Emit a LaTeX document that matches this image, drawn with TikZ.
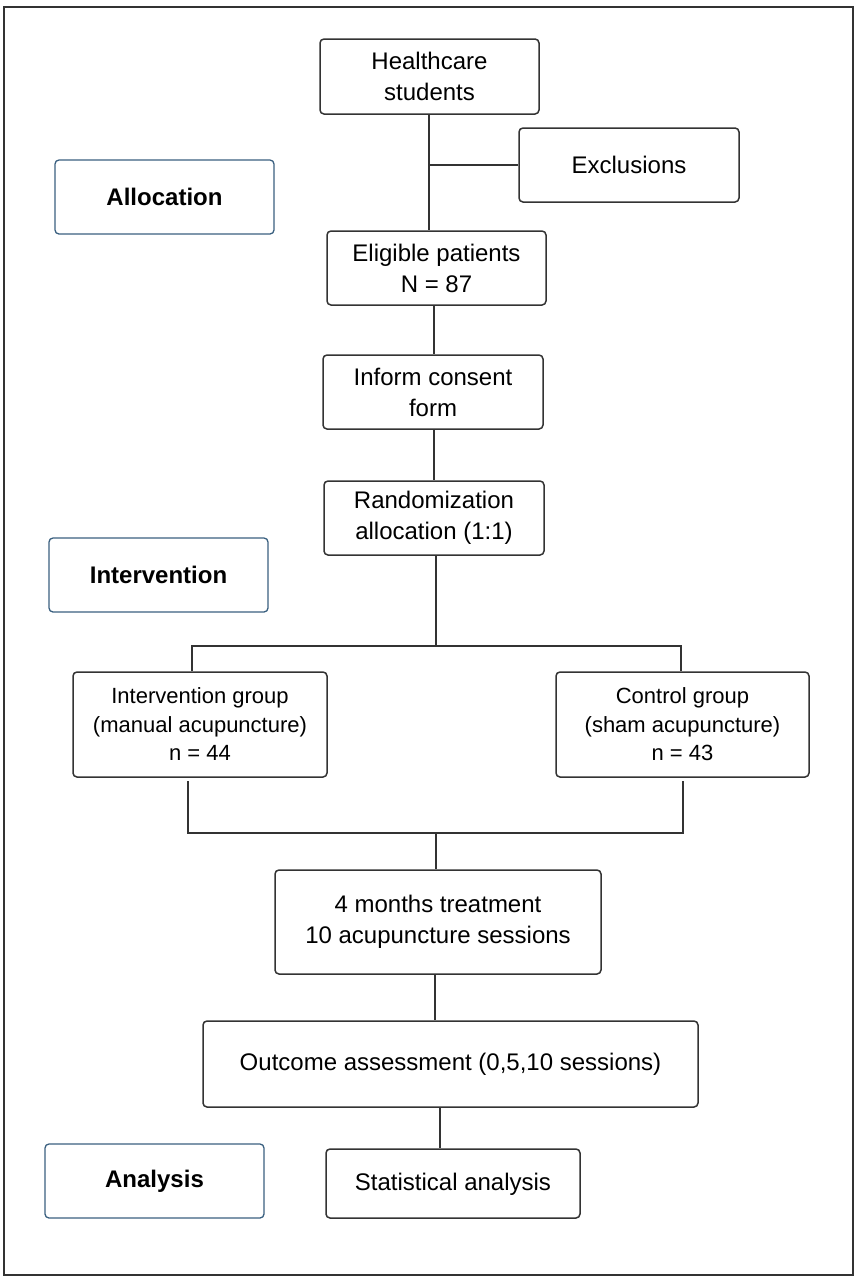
\documentclass[tikz,border=0pt]{standalone}
\usepackage{fontspec}
\setmainfont{Liberation Sans}
\definecolor{boxline}{HTML}{333333}
\definecolor{labline}{HTML}{3A6080}
\begin{document}
\begin{tikzpicture}[x=1pt,y=-1pt,
  box/.style={draw=boxline, line width=1.5pt, rounded corners=4pt, align=center, inner sep=0pt,
     font=\fontsize{24}{31}\selectfont},
  grp/.style={box, font=\fontsize{22}{28.5}\selectfont},
  lab/.style={draw=labline, line width=1.3pt, rounded corners=4pt, align=center, inner sep=0pt,
     font=\fontsize{24}{31}\selectfont\bfseries},
  conn/.style={draw=boxline, line width=1.6pt}]
\useasboundingbox (0,0) rectangle (858,1280);
\draw[line width=2pt, draw=boxline] (4,7) rectangle (853,1275);

\node[box, minimum width=219pt, minimum height=75pt] (hc) at (429.5,76.5) {Healthcare\\students};
\node[box, minimum width=220pt, minimum height=74pt] (excl) at (629,165) {Exclusions};
\node[lab, minimum width=219pt, minimum height=74pt] (alloc) at (164.5,197) {Allocation};
\node[box, minimum width=219pt, minimum height=74pt] (elig) at (436.5,268) {Eligible patients\\N = 87};
\node[box, minimum width=220pt, minimum height=74pt] (inform) at (433,392) {Inform consent\\form};
\node[box, minimum width=220pt, minimum height=74pt] (rand) at (434,518) {Randomization\\allocation (1:1)};
\node[lab, minimum width=219pt, minimum height=74pt] (interv) at (158.5,575) {Intervention};
\node[grp, minimum width=254pt, minimum height=105pt] (igrp) at (200,724.5) {Intervention group\\(manual acupuncture)\\n = 44};
\node[grp, minimum width=253pt, minimum height=105pt] (cgrp) at (682.5,724.5) {Control group\\(sham acupuncture)\\n = 43};
\node[box, minimum width=326pt, minimum height=104pt] (treat) at (438,922) {4 months treatment\\10 acupuncture sessions};
\node[box, minimum width=495pt, minimum height=86pt] (outc) at (450.5,1064) {Outcome assessment (0,5,10 sessions)};
\node[lab, minimum width=219pt, minimum height=74pt] (anal) at (154.5,1181) {Analysis};
\node[box, minimum width=254pt, minimum height=69pt, text depth=4pt] (stat) at (453,1183.5) {Statistical analysis};

% connectors
\coordinate (vA) at (429,0);
\coordinate (vB) at (434,0);
\coordinate (vC) at (436,0);
\draw[conn] (hc.south -| vA) -- (elig.north -| vA);
\draw[conn] (excl.west -| vA) -- (excl.west);
\draw[conn] (elig.south -| vB) -- (inform.north -| vB);
\draw[conn] (inform.south -| vB) -- (rand.north -| vB);
\coordinate (split) at (436,646);
\coordinate (sL) at (192,646);
\coordinate (sR) at (681,646);
\draw[conn] (rand.south -| vC) -- (split);
\draw[conn] (sL |- igrp.north) -- (sL) -- (sR) -- (sR |- cgrp.north);
\coordinate (jL) at (188,781);
\coordinate (jR) at (683,781);
\coordinate (mL) at (188,833);
\coordinate (mR) at (683,833);
\coordinate (mC) at (436,833);
\draw[conn] (jL) -- (mL) -- (mR) -- (jR);
\draw[conn] (mC) -- (mC |- treat.north);
\draw[conn] (treat.south -| 435,0) -- (outc.north -| 435,0);
\draw[conn] (outc.south -| 440,0) -- (stat.north -| 440,0);
\end{tikzpicture}
\end{document}
